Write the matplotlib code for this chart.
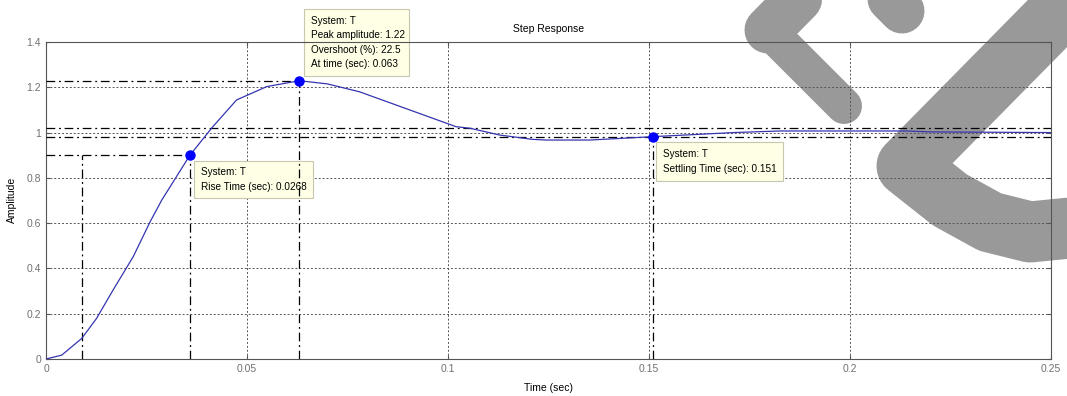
import matplotlib
matplotlib.use("Agg")
import matplotlib.pyplot as plt
from matplotlib.lines import Line2D

plt.rcParams['font.family'] = ['Liberation Sans', 'DejaVu Sans']

# step response
t = [0, 0.0039, 0.0089, 0.0126, 0.0167, 0.0217, 0.0259, 0.0288, 0.0358, 0.0415,
     0.0474, 0.0549, 0.063, 0.070, 0.078, 0.102, 0.1055, 0.1129, 0.121, 0.1245,
     0.1353, 0.151, 0.171, 0.1826, 0.214, 0.22, 0.25]
amp = [0, 0.017, 0.091, 0.18, 0.305, 0.452, 0.606, 0.702, 0.90, 1.026,
       1.144, 1.203, 1.229, 1.215, 1.18, 1.026, 1.019, 0.989, 0.970, 0.967,
       0.967, 0.982, 1.0, 1.007, 1.007, 1.003, 1.0]

rise_t = [0.009, 0.0358]
rise_y = 0.9
peak_t, peak_y = 0.063, 1.229
settle_t, settle_y = 0.151, 0.98
band = [0.98, 1.02]

xticks = [0, 0.05, 0.1, 0.15, 0.2, 0.25]
xticklabels = ['0', '0.05', '0.1', '0.15', '0.2', '0.25']
yticks = [0, 0.2, 0.4, 0.6, 0.8, 1.0, 1.2, 1.4]
yticklabels = ['0', '0.2', '0.4', '0.6', '0.8', '1', '1.2', '1.4']

W, H = 1067, 396
fig = plt.figure(figsize=(W / 100, H / 100), dpi=100)
ax = fig.add_axes([46 / W, 1 - 359 / H, 1005 / W, 317 / H])
ax.set_facecolor('none')
ax.set_xlim(0, 0.25)
ax.set_ylim(0, 1.4)

dd = (0, (7, 3, 1.5, 3))
kw = dict(color='k', lw=0.9, ls=dd, zorder=3)
# rise time guides
ax.plot([0, rise_t[1]], [rise_y, rise_y], **kw)
for x in rise_t:
    ax.plot([x, x], [0, rise_y], **kw)
# peak guides
ax.plot([0, peak_t], [peak_y, peak_y], **kw)
ax.plot([peak_t, peak_t], [0, peak_y], **kw)
# settling band
for b in band:
    ax.axhline(b, **kw)
ax.plot([settle_t, settle_t], [0, settle_y], **kw)

ax.plot(t, amp, color='#3535b0', lw=0.9, zorder=4)
ax.plot([rise_t[1], peak_t, settle_t], [rise_y, peak_y, settle_y], 'o',
        color='#0000ff', ms=6.5, zorder=5)

ax.set_xticks(xticks)
ax.set_xticklabels(xticklabels)
ax.set_yticks(yticks)
ax.set_yticklabels(yticklabels)
ax.grid(True, color='#555555', ls=(0, (2, 2)), lw=0.7)
ax.tick_params(direction='in', length=3, labelsize=7.5, labelcolor='#707070',
               colors='#555555', top=True, right=True)
for s in ax.spines.values():
    s.set_color('#555555')
    s.set_linewidth(0.8)

fig.text(0.5 * (46 + 1051) / W, 1 - 29 / H, 'Step Response', ha='center', va='center', fontsize=7.5)
fig.text(0.5 * (46 + 1051) / W, 1 - 388 / H, 'Time (sec)', ha='center', va='center', fontsize=7.5)
fig.text(12 / W, 1 - 200 / H, 'Amplitude', ha='center', va='center', rotation=90, fontsize=7.5)

# data tips
def tip(x0, y0, x1, y1, lines):
    r = plt.Rectangle((x0 / W, 1 - y1 / H), (x1 - x0) / W, (y1 - y0) / H,
                      transform=fig.transFigure, facecolor='#ffffe6',
                      edgecolor='#c8c8b0', lw=0.8, zorder=2)
    ax.add_artist(r)
    r.set_clip_on(False)
    mid = (y0 + y1) / 2
    n = len(lines)
    for i, s in enumerate(lines):
        yy = mid + (i - (n - 1) / 2) * 14.3
        fig.text((x0 + 7) / W, 1 - yy / H, s,
                 va='center', ha='left', fontsize=7.2, zorder=6)

tip(304, 9, 409, 76, ['System: T', 'Peak amplitude: 1.22', 'Overshoot (%): 22.5',
                      'At time (sec): 0.063'])
tip(194, 161, 313, 198, ['System: T', 'Rise Time (sec): 0.0268'])
tip(656, 142, 783, 181, ['System: T', 'Settling Time (sec): 0.151'])

# grey watermark shapes, drawn under the (transparent) axes
def mark(px, width):
    xs = [p[0] / W for p in px]
    ys = [1 - p[1] / H for p in px]
    fig.add_artist(Line2D(xs, ys, transform=fig.transFigure, color='#999999',
                          lw=width * 0.72, solid_capstyle='round',
                          solid_joinstyle='round', zorder=-1))

mark([(844, 106), (768, 30)], 36)
mark([(768, 30), (844, -47)], 47)
mark([(844, -47), (902, 11)], 45)
mark([(1120, -50), (907, 166), (950, 200), (990, 222), (1030, 232),
      (1070, 228), (1110, 210)], 61)

fig.savefig('out.png', dpi=100)
